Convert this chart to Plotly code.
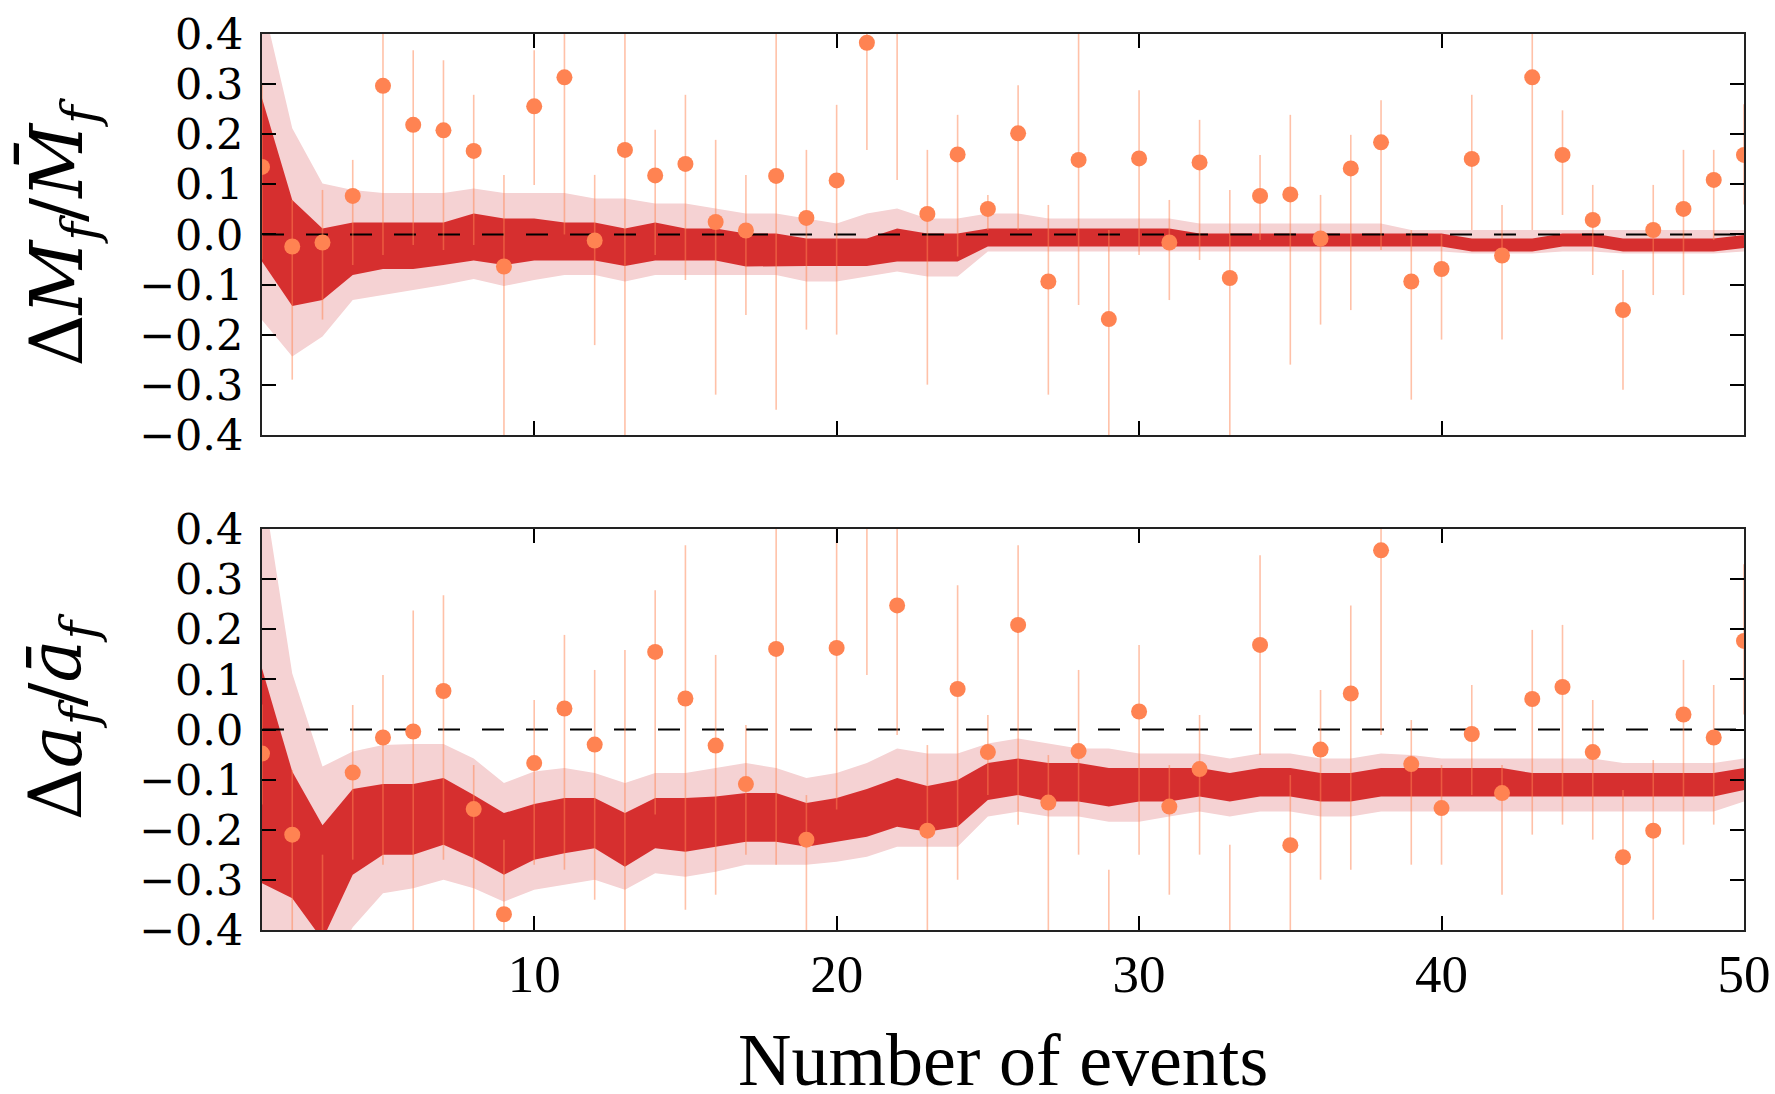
import plotly.graph_objects as go

events = list(range(1, 51))

# ---------------- top panel: Delta M_f / M_f ----------------
mass_val = [0.135, -0.024, -0.016, 0.077, 0.297, 0.219, 0.208, 0.167, -0.064, 0.256,
            0.314, -0.012, 0.169, 0.118, 0.141, 0.025, 0.008, 0.117, 0.033, 0.108,
            0.383, 0.45, 0.041, 0.160, 0.051, 0.202, -0.094, 0.149, -0.169, 0.152,
            -0.016, 0.144, -0.087, 0.077, 0.080, -0.008, 0.132, 0.184, -0.094, -0.069,
            0.151, -0.042, 0.314, 0.159, 0.029, -0.151, 0.009, 0.051, 0.109, 0.159]
mass_hi = [0.30, 0.069, 0.089, 0.149, 0.45, 0.368, 0.348, 0.279, 0.119, 0.368,
           0.45, 0.119, 0.45, 0.209, 0.279, 0.189, 0.119, 0.45, 0.169, 0.259,
           0.55, 0.65, 0.169, 0.239, 0.079, 0.298, 0.059, 0.45, 0.009, 0.288,
           0.069, 0.229, 0.089, 0.159, 0.239, 0.079, 0.199, 0.268, 0.009, 0.0,
           0.279, 0.059, 0.45, 0.248, 0.099, -0.071, 0.099, 0.169, 0.169, 0.26]
mass_lo = [-0.05, -0.29, -0.17, -0.061, -0.041, -0.021, -0.031, -0.021, -0.45, 0.099,
           0.0, -0.221, -0.45, -0.041, -0.091, -0.32, -0.161, -0.35, -0.19, -0.2,
           0.169, 0.109, -0.3, -0.044, 0.009, 0.009, -0.32, -0.141, -0.45, -0.041,
           -0.131, -0.051, -0.45, -0.011, -0.26, -0.18, -0.151, -0.031, -0.33, -0.21,
           0.009, -0.21, 0.009, 0.039, -0.081, -0.31, -0.121, -0.121, -0.011, 0.06]
mass_band68_hi = [0.272, 0.069, 0.012, 0.024, 0.024, 0.024, 0.024, 0.042, 0.032, 0.032,
                  0.024, 0.024, 0.012, 0.024, 0.012, 0.012, 0.002, 0.002, -0.008, -0.008,
                  -0.008, 0.012, 0.002, 0.002, 0.012, 0.012, 0.012, 0.012, 0.012, 0.012,
                  0.012, 0.002, 0.002, 0.002, 0.002, 0.002, 0.002, 0.002, 0.002, 0.002,
                  -0.008, -0.008, -0.008, 0.002, 0.002, -0.008, -0.008, -0.008, -0.008, -0.001]
mass_band68_lo = [-0.054, -0.143, -0.131, -0.081, -0.069, -0.069, -0.061, -0.052, -0.061, -0.052,
                  -0.052, -0.052, -0.063, -0.052, -0.052, -0.052, -0.064, -0.063, -0.063, -0.063,
                  -0.063, -0.054, -0.054, -0.054, -0.024, -0.024, -0.024, -0.024, -0.024, -0.024,
                  -0.024, -0.024, -0.024, -0.024, -0.024, -0.024, -0.024, -0.024, -0.024, -0.024,
                  -0.034, -0.034, -0.034, -0.024, -0.024, -0.034, -0.034, -0.034, -0.034, -0.027]
mass_band95_hi = [0.47, 0.212, 0.102, 0.089, 0.083, 0.083, 0.083, 0.092, 0.083, 0.083,
                  0.083, 0.072, 0.072, 0.062, 0.062, 0.052, 0.042, 0.042, 0.032, 0.022,
                  0.042, 0.052, 0.032, 0.032, 0.042, 0.042, 0.032, 0.032, 0.032, 0.032,
                  0.032, 0.022, 0.022, 0.022, 0.022, 0.022, 0.022, 0.022, 0.009, 0.009,
                  0.009, 0.009, 0.009, 0.009, 0.009, 0.009, 0.009, 0.009, 0.009, 0.009]
mass_band95_lo = [-0.171, -0.244, -0.204, -0.131, -0.121, -0.111, -0.101, -0.089, -0.103, -0.091,
                  -0.081, -0.081, -0.094, -0.081, -0.081, -0.081, -0.081, -0.081, -0.094, -0.094,
                  -0.084, -0.074, -0.084, -0.084, -0.034, -0.034, -0.034, -0.034, -0.034, -0.034,
                  -0.034, -0.034, -0.034, -0.034, -0.034, -0.034, -0.034, -0.034, -0.034, -0.034,
                  -0.038, -0.038, -0.038, -0.034, -0.034, -0.038, -0.038, -0.038, -0.038, -0.034]

# ---------------- bottom panel: Delta a_f / a_f ----------------
spin_val = [-0.048, -0.210, -0.45, -0.086, -0.016, -0.004, 0.077, -0.159, -0.369, -0.067,
            0.042, -0.030, -0.45, 0.155, 0.062, -0.032, -0.109, 0.161, -0.220, 0.163,
            0.45, 0.248, -0.202, 0.081, -0.045, 0.209, -0.146, -0.043, -0.47, 0.036,
            -0.154, -0.079, -0.46, 0.169, -0.231, -0.040, 0.072, 0.358, -0.069, -0.157,
            -0.009, -0.127, 0.061, 0.085, -0.045, -0.255, -0.202, 0.030, -0.016, 0.177]
spin_hi = [0.05, -0.081, -0.25, 0.049, 0.109, 0.238, 0.268, -0.071, -0.22, 0.059,
           0.189, 0.119, 0.159, 0.278, 0.368, 0.149, 0.009, 0.45, -0.131, 0.45,
           0.6, 0.45, -0.031, 0.288, 0.029, 0.368, -0.051, 0.119, -0.28, 0.169,
           -0.071, 0.029, -0.23, 0.348, -0.091, 0.079, 0.248, 0.45, 0.019, -0.071,
           0.089, -0.071, 0.199, 0.209, 0.059, -0.121, -0.061, 0.139, 0.089, 0.33]
spin_lo = [-0.15, -0.45, -0.6, -0.26, -0.27, -0.45, -0.26, -0.45, -0.45, -0.27,
           -0.28, -0.34, -0.6, -0.17, -0.36, -0.33, -0.25, -0.27, -0.45, -0.16,
           0.109, -0.011, -0.45, -0.3, -0.131, -0.19, -0.45, -0.25, -0.6, -0.25,
           -0.33, -0.25, -0.6, -0.051, -0.45, -0.3, -0.28, -0.011, -0.27, -0.27,
           -0.131, -0.33, -0.21, -0.19, -0.22, -0.45, -0.38, -0.23, -0.19, 0.03]
spin_band68_hi = [0.122, -0.084, -0.191, -0.119, -0.109, -0.109, -0.097, -0.131, -0.167, -0.149,
                  -0.137, -0.137, -0.167, -0.137, -0.137, -0.134, -0.127, -0.127, -0.147, -0.137,
                  -0.119, -0.097, -0.113, -0.101, -0.067, -0.058, -0.067, -0.067, -0.077, -0.077,
                  -0.077, -0.077, -0.087, -0.077, -0.077, -0.087, -0.087, -0.077, -0.077, -0.077,
                  -0.077, -0.077, -0.087, -0.087, -0.087, -0.087, -0.087, -0.087, -0.087, -0.077]
spin_band68_lo = [-0.307, -0.337, -0.42, -0.29, -0.25, -0.25, -0.23, -0.257, -0.29, -0.26,
                  -0.247, -0.237, -0.274, -0.237, -0.244, -0.234, -0.224, -0.224, -0.234, -0.224,
                  -0.214, -0.194, -0.204, -0.194, -0.141, -0.131, -0.144, -0.144, -0.154, -0.144,
                  -0.144, -0.134, -0.144, -0.134, -0.134, -0.144, -0.144, -0.134, -0.134, -0.134,
                  -0.134, -0.134, -0.134, -0.134, -0.134, -0.134, -0.134, -0.134, -0.134, -0.121]
spin_band95_hi = [0.50, 0.112, -0.074, -0.044, -0.031, -0.029, -0.029, -0.058, -0.107, -0.084,
                  -0.077, -0.087, -0.107, -0.087, -0.087, -0.077, -0.067, -0.077, -0.097, -0.087,
                  -0.067, -0.038, -0.048, -0.048, -0.028, -0.018, -0.028, -0.038, -0.038, -0.048,
                  -0.048, -0.048, -0.058, -0.048, -0.048, -0.058, -0.058, -0.048, -0.051, -0.058,
                  -0.058, -0.058, -0.058, -0.058, -0.058, -0.067, -0.067, -0.067, -0.067, -0.058]
spin_band95_lo = [-0.5, -0.5, -0.5, -0.395, -0.327, -0.317, -0.30, -0.317, -0.344, -0.32,
                  -0.31, -0.30, -0.32, -0.287, -0.294, -0.284, -0.27, -0.27, -0.27, -0.264,
                  -0.254, -0.234, -0.234, -0.234, -0.174, -0.164, -0.174, -0.174, -0.184, -0.184,
                  -0.174, -0.164, -0.174, -0.164, -0.164, -0.174, -0.174, -0.164, -0.164, -0.164,
                  -0.164, -0.164, -0.164, -0.164, -0.164, -0.164, -0.164, -0.164, -0.164, -0.144]

x_tick_vals = [10, 20, 30, 40, 50]
y_tick_vals = [-0.4, -0.3, -0.2, -0.1, 0.0, 0.1, 0.2, 0.3, 0.4]

DARK = "#d62f2f"
PINK = "#f5d2d3"
DOT = "#ff8352"
BAR = "rgba(255,131,82,0.5)"

fig = go.Figure()


def add_panel(xa, ya, val, hi, lo, b68h, b68l, b95h, b95l):
    common = dict(xaxis=xa, yaxis=ya, showlegend=False, hoverinfo="skip")
    fig.add_trace(go.Scatter(x=events, y=b95l, mode="lines", line=dict(width=0, color=PINK), **common))
    fig.add_trace(go.Scatter(x=events, y=b95h, mode="lines", line=dict(width=0, color=PINK),
                             fill="tonexty", fillcolor=PINK, **common))
    fig.add_trace(go.Scatter(x=events, y=b68l, mode="lines", line=dict(width=0, color=DARK), **common))
    fig.add_trace(go.Scatter(x=events, y=b68h, mode="lines", line=dict(width=0, color=DARK),
                             fill="tonexty", fillcolor=DARK, **common))
    fig.add_trace(go.Scatter(x=[events[0], events[-1]], y=[0, 0], mode="lines",
                             line=dict(color="black", width=2.2, dash="22px,22px"), **common))
    fig.add_trace(go.Scatter(
        x=events, y=val, mode="markers",
        marker=dict(size=16, color=DOT, line=dict(width=0)),
        error_y=dict(type="data", symmetric=False,
                     array=[h - v for h, v in zip(hi, val)],
                     arrayminus=[v - l for v, l in zip(val, lo)],
                     color=BAR, thickness=1.6, width=0),
        **common))


add_panel("x", "y", mass_val, mass_hi, mass_lo,
          mass_band68_hi, mass_band68_lo, mass_band95_hi, mass_band95_lo)
add_panel("x2", "y2", spin_val, spin_hi, spin_lo,
          spin_band68_hi, spin_band68_lo, spin_band95_hi, spin_band95_lo)

axis_common = dict(showgrid=False, zeroline=False, showline=True, linecolor="#222222",
                   linewidth=2, mirror="ticks", ticks="inside", ticklen=14, tickwidth=2,
                   tickcolor="black", automargin=False)

xcommon = dict(range=[1, 50.001], tickvals=x_tick_vals, **axis_common)
ycommon = dict(range=[-0.4005, 0.4005], tickvals=y_tick_vals, tickformat=".1f",
               tickfont=dict(family="DejaVu Serif", size=43, color="black"),
               ticklabelstandoff=8, **axis_common)

fig.update_layout(
    width=1775, height=1094,
    margin=dict(l=262, r=31, t=34, b=164, autoexpand=False),
    paper_bgcolor="white", plot_bgcolor="white",
    xaxis=dict(domain=[0, 1], anchor="y", showticklabels=False, **xcommon),
    yaxis=dict(domain=[0.5525, 1.0], anchor="x", **ycommon),
    xaxis2=dict(domain=[0, 1], anchor="y2", showticklabels=True,
                tickfont=dict(family="Liberation Serif", size=53, color="black"),
                ticklabelstandoff=-4, **xcommon),
    yaxis2=dict(domain=[0, 0.4475], anchor="x2", **ycommon),
    annotations=[
        dict(text="Number of events", xref="paper", yref="paper", x=0.5, y=-0.145,
             xanchor="center", yanchor="middle", showarrow=False, height=62,
             font=dict(family="Liberation Serif", size=74, color="black")),
        dict(text="Δ<i>M</i><sub><i>f</i></sub>/<i>M̄</i><sub><i>f</i></sub>",
             xref="paper", yref="paper", x=-0.136, y=0.779, textangle=-90,
             xanchor="center", yanchor="middle", showarrow=False,
             font=dict(family="DejaVu Serif", size=72, color="black")),
        dict(text="Δ<i>a</i><sub><i>f</i></sub>/<i>ā</i><sub><i>f</i></sub>",
             xref="paper", yref="paper", x=-0.136, y=0.239, textangle=-90,
             xanchor="center", yanchor="middle", showarrow=False,
             font=dict(family="DejaVu Serif", size=72, color="black")),
    ],
)

fig.write_html("out.html")
